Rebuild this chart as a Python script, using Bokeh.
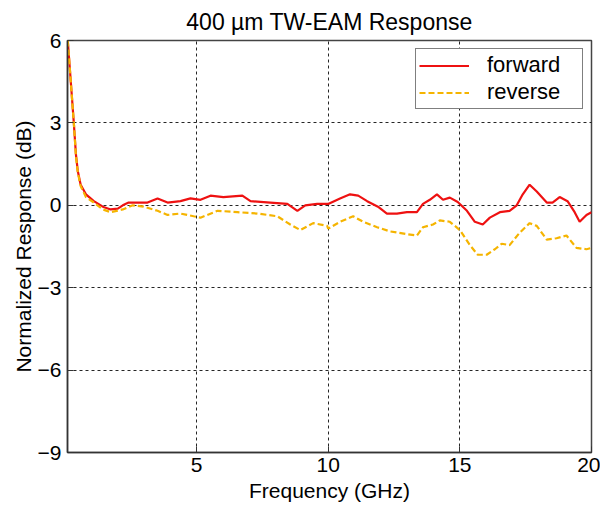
from bokeh.plotting import figure
from bokeh.models import Range1d, FixedTicker, Legend, LegendItem
from bokeh.embed import file_html
from bokeh.resources import INLINE

freq_fwd = [0.11, 0.34, 0.42, 0.49, 0.6, 0.8, 1.1, 1.44, 1.74, 2.01, 2.2, 2.42, 3.14, 3.52, 3.9, 4.39,
            4.77, 5.15, 5.53, 6.02, 6.74, 7.05, 7.8, 8.45, 8.83, 9.13, 9.58, 10.0, 10.45, 10.83,
            11.14, 11.48, 11.89, 12.23, 12.61, 12.99, 13.37, 13.6, 13.86, 14.13, 14.36, 14.62, 14.92,
            15.27, 15.57, 15.87, 16.14, 16.52, 16.89, 17.16, 17.39, 17.65, 17.92, 18.3, 18.52, 18.79,
            19.09, 19.36, 19.55, 19.81, 20.0]
resp_fwd = [6.0, 3.0, 1.85, 1.25, 0.75, 0.4, 0.15, -0.05, -0.15, -0.12, 0.0, 0.1, 0.1, 0.25, 0.1, 0.15,
            0.25, 0.2, 0.35, 0.3, 0.35, 0.15, 0.1, 0.05, -0.2, 0.0, 0.05, 0.05, 0.25, 0.4,
            0.35, 0.15, -0.05, -0.3, -0.3, -0.25, -0.25, 0.05, 0.2, 0.4, 0.2, 0.28, 0.12,
            -0.2, -0.6, -0.7, -0.45, -0.25, -0.2, 0.0, 0.4, 0.75, 0.5, 0.1, 0.1, 0.3,
            0.15, -0.25, -0.6, -0.35, -0.25]

freq_rev = [0.11, 0.34, 0.42, 0.49, 0.6, 0.8, 1.1, 1.44, 1.74, 2.2, 2.58, 2.99, 3.52, 3.9, 4.39, 4.89,
            5.15, 5.8, 6.55, 7.31, 8.07, 8.56, 8.94, 9.43, 9.96, 10.0, 10.45, 10.95, 11.33, 11.86,
            12.35, 12.99, 13.37, 13.6, 13.98, 14.24, 14.62, 15.0, 15.38, 15.68, 16.02, 16.33, 16.59,
            16.89, 17.27, 17.65, 17.92, 18.3, 18.67, 19.05, 19.43, 19.81, 20.0]
resp_rev = [6.0, 3.0, 1.8, 1.2, 0.7, 0.3, 0.1, -0.15, -0.25, -0.15, 0.0, -0.05, -0.2, -0.35, -0.3, -0.4,
            -0.45, -0.2, -0.25, -0.3, -0.4, -0.7, -0.9, -0.65, -0.75, -0.85, -0.6, -0.4, -0.6, -0.8,
            -0.95, -1.05, -1.1, -0.8, -0.7, -0.55, -0.6, -0.9, -1.45, -1.8, -1.8, -1.6, -1.4,
            -1.45, -1.0, -0.65, -0.75, -1.25, -1.2, -1.1, -1.55, -1.6, -1.55]

x_ticks = [5, 10, 15, 20]
y_ticks = [-9, -6, -3, 0, 3, 6]

FONT = "Liberation Sans"

p = figure(width=600, height=504, output_backend="svg", toolbar_location=None,
           x_range=Range1d(0.1, 20), y_range=Range1d(-9, 6),
           min_border_left=67, min_border_right=9, min_border_top=40, min_border_bottom=52)

p.title.text = "400 µm TW-EAM Response"
p.title.align = "center"
p.title.text_font = FONT
p.title.text_font_size = "23px"
p.title.text_font_style = "normal"
p.title.text_color = "black"
p.title.standoff = 12

p.outline_line_color = "#444444"
p.outline_line_width = 1.5

for ax in (p.xaxis[0], p.yaxis[0]):
    ax.major_tick_in = 6
    ax.major_tick_out = 0
    ax.minor_tick_in = 0
    ax.minor_tick_out = 0
    ax.axis_line_color = "#333333"
    ax.axis_line_width = 1.5
    ax.major_tick_line_color = "#333333"
    ax.major_label_text_font = FONT
    ax.major_label_text_font_size = "21px"
    ax.major_label_text_color = "black"
    ax.axis_label_text_font = FONT
    ax.axis_label_text_font_size = "21px"
    ax.axis_label_text_font_style = "normal"
    ax.axis_label_text_color = "black"

p.xaxis[0].ticker = FixedTicker(ticks=x_ticks)
p.yaxis[0].ticker = FixedTicker(ticks=y_ticks)
p.xaxis[0].axis_label = "Frequency (GHz)"
p.yaxis[0].axis_label = "Normalized Response (dB)"
p.xaxis[0].major_label_standoff = 5
p.yaxis[0].major_label_standoff = 6
p.xaxis[0].axis_label_standoff = 4
p.yaxis[0].axis_label_standoff = 0

p.xgrid.ticker = FixedTicker(ticks=[5, 10, 15])
p.ygrid.ticker = FixedTicker(ticks=[-6, -3, 0, 3])
for g in (p.xgrid[0], p.ygrid[0]):
    g.grid_line_color = "black"
    g.grid_line_dash = "3 3"
    g.grid_line_width = 1
    g.grid_line_alpha = 0.85

r_fwd = p.line(freq_fwd, resp_fwd, line_color="#ee1111", line_width=2.2)
r_rev = p.line(freq_rev, resp_rev, line_color="#f5b400", line_width=2.2, line_dash="6 3")

legend = Legend(items=[LegendItem(label="forward", renderers=[r_fwd]),
                       LegendItem(label="reverse", renderers=[r_rev])],
                location="top_right")
legend.label_text_font = FONT
legend.label_text_font_size = "22px"
legend.label_text_color = "black"
legend.label_height = 23
legend.glyph_height = 23
legend.label_width = 92
legend.glyph_width = 50
legend.label_standoff = 18
legend.spacing = 1
legend.padding = 3
legend.margin = 8
legend.border_line_color = "black"
legend.border_line_width = 1
legend.background_fill_alpha = 1
p.add_layout(legend)

open("out.html", "w").write(file_html(p, INLINE))
